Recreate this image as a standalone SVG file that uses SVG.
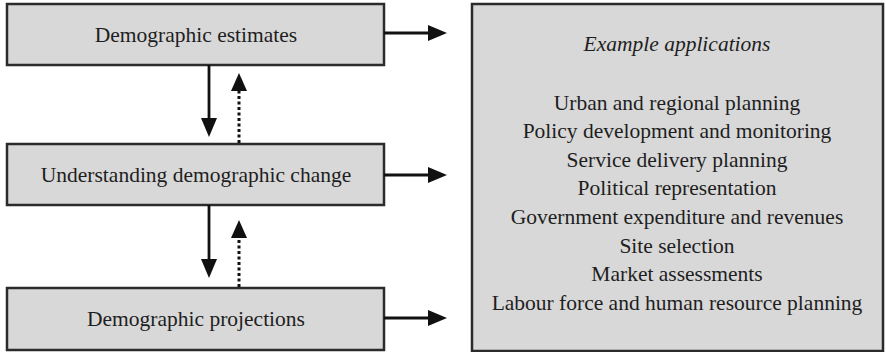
<svg xmlns="http://www.w3.org/2000/svg" width="886" height="352" viewBox="0 0 886 352">
  <style>
    .box { fill: #d8d8d8; stroke: #2b2b2b; stroke-width: 2.5; }
    .lbl { font-family: "Liberation Serif", "Times New Roman", serif; font-size: 21.5px; fill: #1e1e1e; text-anchor: middle; }
    .it { font-style: italic; }
    .solid { stroke: #111; stroke-width: 2.8; fill: none; }
    .dot { stroke: #111; stroke-width: 3; fill: none; stroke-dasharray: 3 2.5; }
    .head { fill: #111; }
  </style>
  <rect width="886" height="352" fill="#ffffff"/>

  <g id="estimates">
    <rect class="box" x="7" y="4" width="377" height="61"/>
    <text class="lbl" x="196" y="42">Demographic estimates</text>
  </g>
  <g id="understanding">
    <rect class="box" x="7" y="144" width="377" height="61"/>
    <text class="lbl" x="196" y="182">Understanding demographic change</text>
  </g>
  <g id="projections">
    <rect class="box" x="7" y="288" width="377" height="62"/>
    <text class="lbl" x="196" y="326">Demographic projections</text>
  </g>
  <g id="applications">
    <rect class="box" x="472" y="4" width="411" height="347"/>
    <text class="lbl it" x="677" y="51">Example applications</text>
    <text class="lbl" x="677" y="110">Urban and regional planning</text>
    <text class="lbl" x="677" y="138">Policy development and monitoring</text>
    <text class="lbl" x="677" y="167">Service delivery planning</text>
    <text class="lbl" x="677" y="195">Political representation</text>
    <text class="lbl" x="677" y="224">Government expenditure and revenues</text>
    <text class="lbl" x="677" y="253">Site selection</text>
    <text class="lbl" x="677" y="281">Market assessments</text>
    <text class="lbl" x="677" y="310">Labour force and human resource planning</text>
  </g>

  <g id="connectors">
    <!-- outputs to applications -->
    <line class="solid" x1="384" y1="33" x2="431" y2="33"/>
    <polygon class="head" points="428,25 447,33 428,41"/>
    <line class="solid" x1="384" y1="175" x2="431" y2="175"/>
    <polygon class="head" points="428,167 447,175 428,183"/>
    <line class="solid" x1="384" y1="318" x2="431" y2="318"/>
    <polygon class="head" points="428,310 447,318 428,326"/>

    <!-- estimates <-> understanding -->
    <line class="solid" x1="209" y1="65" x2="209" y2="121"/>
    <polygon class="head" points="201,118 209,137 217,118"/>
    <line class="dot" x1="239" y1="143" x2="239" y2="89"/>
    <polygon class="head" points="231,91 239,73 247,91"/>

    <!-- understanding <-> projections -->
    <line class="solid" x1="209" y1="205" x2="209" y2="262"/>
    <polygon class="head" points="201,259 209,278 217,259"/>
    <line class="dot" x1="239" y1="287" x2="239" y2="236"/>
    <polygon class="head" points="231,238 239,220 247,238"/>
  </g>
</svg>
